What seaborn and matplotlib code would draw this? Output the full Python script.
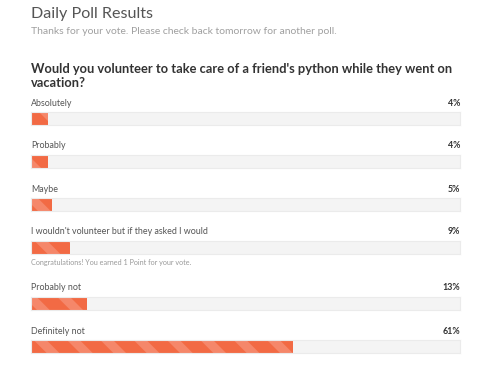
import matplotlib
matplotlib.use("Agg")
import matplotlib.pyplot as plt
import seaborn as sns
import pandas as pd

# ---- data ----
title = "Daily Poll Results"
subtitle = "Thanks for your vote. Please check back tomorrow for another poll."
question = "Would you volunteer to take care of a friend's python while they went on\nvacation?"
answers = ["Absolutely", "Probably", "Maybe",
           "I wouldn't volunteer but if they asked I would",
           "Probably not", "Definitely not"]
percents = [4, 4, 5, 9, 13, 61]
voted_index = 3
congrats = "Congratulations! You earned 1 Point for your vote."

# ---- style ----
sns.set_theme(style="white")
plt.rcParams['font.family'] = ['Lato', 'DejaVu Sans']
plt.rcParams['hatch.linewidth'] = 6.5

W, H = 500, 385
fig = plt.figure(figsize=(W / 100, H / 100), dpi=100)
fig.patch.set_facecolor("white")

def fx(x):
    return x / W

def fy(y):
    return 1 - y / H

left, right = 31, 460
bar_h = 13
bar_tops = []
top = 112
for i in range(len(answers)):
    bar_tops.append(top)
    top += 43
    if i == voted_index:
        top += 13

fig.text(fx(left), fy(14), title, fontsize=11.6, color="#555555", va="center", ha="left")
fig.text(fx(left), fy(32), subtitle, fontsize=7.45, color="#a0a0a0", va="center", ha="left")
fig.text(fx(left), fy(76), question, fontsize=9.3, color="#333333", va="center", ha="left",
         fontweight="bold", linespacing=1.2)

bar_color = "#f26a44"
stripe_color = "#f5876a"

for i, (ans, pct, t) in enumerate(zip(answers, percents, bar_tops)):
    ax = fig.add_axes([fx(left), fy(t + bar_h), (right - left) / W, bar_h / H])
    df = pd.DataFrame({"answer": [ans], "pct": [pct]})
    sns.barplot(data=df, x="pct", y="answer", orient="h", ax=ax, width=1.0,
                color=bar_color, saturation=1)
    for p in ax.patches:
        p.set_facecolor(bar_color)
        p.set_edgecolor(stripe_color)
        p.set_hatch("\\")
        p.set_linewidth(0)
    ax.set_xlim(0, 100)
    ax.set_ylim(0.5, -0.5)
    ax.set_facecolor("#f4f4f4")
    for s in ax.spines.values():
        s.set_color("#ebebeb")
        s.set_linewidth(0.8)
    ax.set_xticks([])
    ax.set_yticks([])
    ax.set_xlabel("")
    ax.set_ylabel("")
    fig.text(fx(left), fy(t - 9), ans, fontsize=6.4, color="#555555", va="center", ha="left")
    fig.text(fx(right), fy(t - 9), f"{pct}%", fontsize=6.4, color="#333333", va="center",
             ha="right", fontweight="bold")
    if i == voted_index:
        fig.text(fx(left), fy(t + bar_h + 8), congrats, fontsize=5.2, color="#9a9a9a",
                 va="center", ha="left")

fig.savefig("out.png", dpi=100, facecolor="white")
